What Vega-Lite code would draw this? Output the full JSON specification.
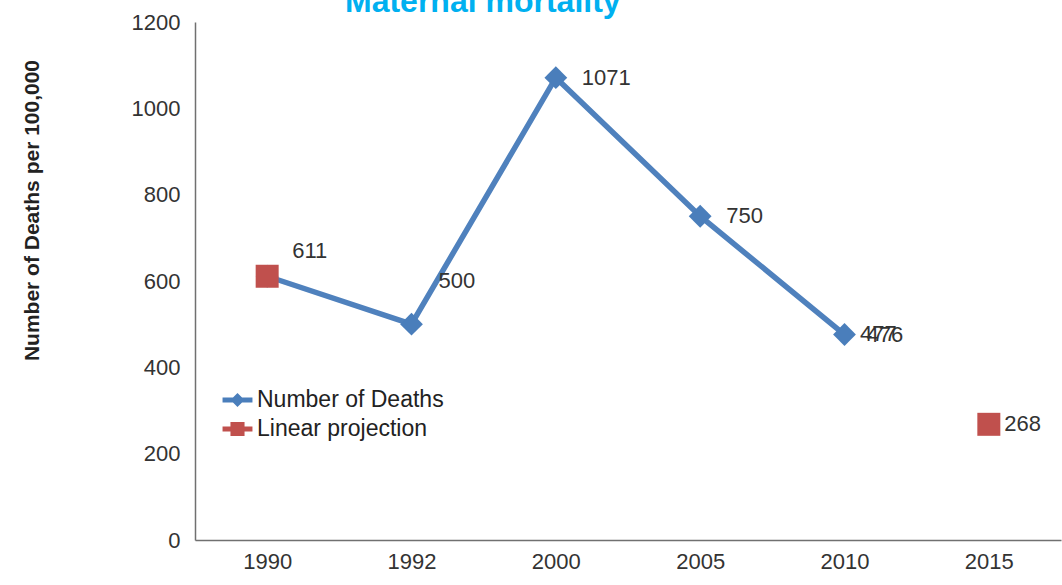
{
  "$schema": "https://vega.github.io/schema/vega-lite/v6.json",
  "width": 866,
  "height": 518,
  "autosize": {"type": "none"},
  "padding": {"left": 195, "top": 22, "right": 1, "bottom": 45},
  "background": "white",
  "title": {"text": "Maternal mortality", "anchor": "start", "frame": "group", "dx": 150, "dy": 33, "offset": 0, "baseline": "alphabetic", "font": "Liberation Sans", "fontSize": 32, "fontWeight": "bold", "color": "#00B0F0"},
  "data": {"values": [
    {"year": "1990", "series": "Number of Deaths", "value": 611},
    {"year": "1992", "series": "Number of Deaths", "value": 500},
    {"year": "2000", "series": "Number of Deaths", "value": 1071},
    {"year": "2005", "series": "Number of Deaths", "value": 750},
    {"year": "2010", "series": "Number of Deaths", "value": 476},
    {"year": "1990", "series": "Linear projection", "value": 611},
    {"year": "2010", "series": "Linear projection", "value": 477},
    {"year": "2015", "series": "Linear projection", "value": 268}
  ]},
  "encoding": {
    "x": {"field": "year", "type": "ordinal", "sort": ["1990", "1992", "2000", "2005", "2010", "2015"],
      "scale": {"type": "point", "padding": 0.5, "domain": ["1990", "1992", "2000", "2005", "2010", "2015"]},
      "axis": {"title": null, "ticks": false, "grid": false, "labelAngle": 0, "labelFont": "Liberation Sans", "labelFontSize": 22, "labelColor": "#333333", "labelPadding": 11, "domainColor": "#707070", "domainWidth": 1.5}},
    "y": {"field": "value", "type": "quantitative", "scale": {"domain": [0, 1200]},
      "axis": {"title": "Number of Deaths per 100,000", "values": [0, 200, 400, 600, 800, 1000, 1200], "format": "d", "ticks": false, "grid": false, "labelFont": "Liberation Sans", "labelFontSize": 22, "labelColor": "#333333", "labelPadding": 15, "domainColor": "#707070", "domainWidth": 1.5,
        "titleFont": "Liberation Sans", "titleFontSize": 21, "titleFontWeight": "bold", "titleColor": "#222222", "titleX": -157, "titleY": 188, "titleAngle": -90, "titleBaseline": "alphabetic", "titleAlign": "center"}}
  },
  "layer": [
    {
      "mark": {"type": "point", "filled": true, "opacity": 0},
      "encoding": {
        "color": {"field": "series", "type": "nominal",
          "scale": {"domain": ["Number of Deaths", "Linear projection"], "range": ["#4A7EBB", "#C0504D"]},
          "legend": {"title": null, "orient": "none", "legendX": 31, "legendY": 366.5, "symbolSize": 484, "symbolOpacity": 1, "symbolStrokeWidth": 0, "labelFont": "Liberation Sans", "labelFontSize": 23, "labelColor": "#222222", "labelOffset": 8, "labelLimit": 0, "rowPadding": 5, "padding": 0}},
        "shape": {"field": "series", "type": "nominal",
          "scale": {"domain": ["Number of Deaths", "Linear projection"], "range": ["M-1.36,-0.23L1.36,-0.23L1.36,0.23L-1.36,0.23Z M0,-0.64L0.64,0L0,0.64L-0.64,0Z", "M-1.36,-0.23L1.36,-0.23L1.36,0.23L-1.36,0.23Z M-0.64,-0.64L0.64,-0.64L0.64,0.64L-0.64,0.64Z"]},
          "legend": {"title": null, "orient": "none", "legendX": 31, "legendY": 366.5, "symbolSize": 484, "symbolOpacity": 1, "symbolStrokeWidth": 0, "labelFont": "Liberation Sans", "labelFontSize": 23, "labelColor": "#222222", "labelOffset": 8, "labelLimit": 0, "rowPadding": 5, "padding": 0}}
      }
    },
    {
      "transform": [{"filter": "datum.series == 'Number of Deaths'"}],
      "mark": {"type": "line", "color": "#4F81BD", "strokeWidth": 5.5},
      "encoding": {}
    },
    {
      "transform": [{"filter": "datum.series == 'Number of Deaths'"}],
      "mark": {"type": "point", "shape": "diamond", "filled": true, "color": "#4A7EBB", "size": 520, "opacity": 1}
    },
    {
      "transform": [{"filter": "datum.series == 'Linear projection' && datum.year != '2010'"}],
      "mark": {"type": "point", "shape": "square", "filled": true, "color": "#C0504D", "size": 529, "opacity": 1}
    },
    {
      "transform": [{"filter": "datum.series == 'Number of Deaths' && (datum.year == '2000' || datum.year == '2005')"}],
      "mark": {"type": "text", "align": "left", "baseline": "middle", "dx": 26, "dy": 0, "font": "Liberation Sans", "fontSize": 22, "color": "#333333"},
      "encoding": {"text": {"field": "value", "type": "quantitative"}}
    },
    {
      "transform": [{"filter": "datum.series == 'Number of Deaths' && datum.year == '1992'"}],
      "mark": {"type": "text", "align": "left", "baseline": "middle", "dx": 27, "dy": -43, "font": "Liberation Sans", "fontSize": 22, "color": "#333333"},
      "encoding": {"text": {"field": "value", "type": "quantitative"}}
    },
    {
      "transform": [{"filter": "datum.series == 'Number of Deaths' && datum.year == '2010'"}],
      "mark": {"type": "text", "align": "left", "baseline": "middle", "dx": 22, "dy": 0, "font": "Liberation Sans", "fontSize": 22, "color": "#333333"},
      "encoding": {"text": {"field": "value", "type": "quantitative"}}
    },
    {
      "transform": [{"filter": "datum.series == 'Linear projection' && datum.year == '1990'"}],
      "mark": {"type": "text", "align": "left", "baseline": "middle", "dx": 25, "dy": -25, "font": "Liberation Sans", "fontSize": 22, "color": "#333333"},
      "encoding": {"text": {"field": "value", "type": "quantitative"}}
    },
    {
      "transform": [{"filter": "datum.series == 'Linear projection' && datum.year != '1990'"}],
      "mark": {"type": "text", "align": "left", "baseline": "middle", "dx": 15.5, "dy": 0, "font": "Liberation Sans", "fontSize": 22, "color": "#333333"},
      "encoding": {"text": {"field": "value", "type": "quantitative"}}
    }
  ],
  "config": {"view": {"stroke": null}}
}
